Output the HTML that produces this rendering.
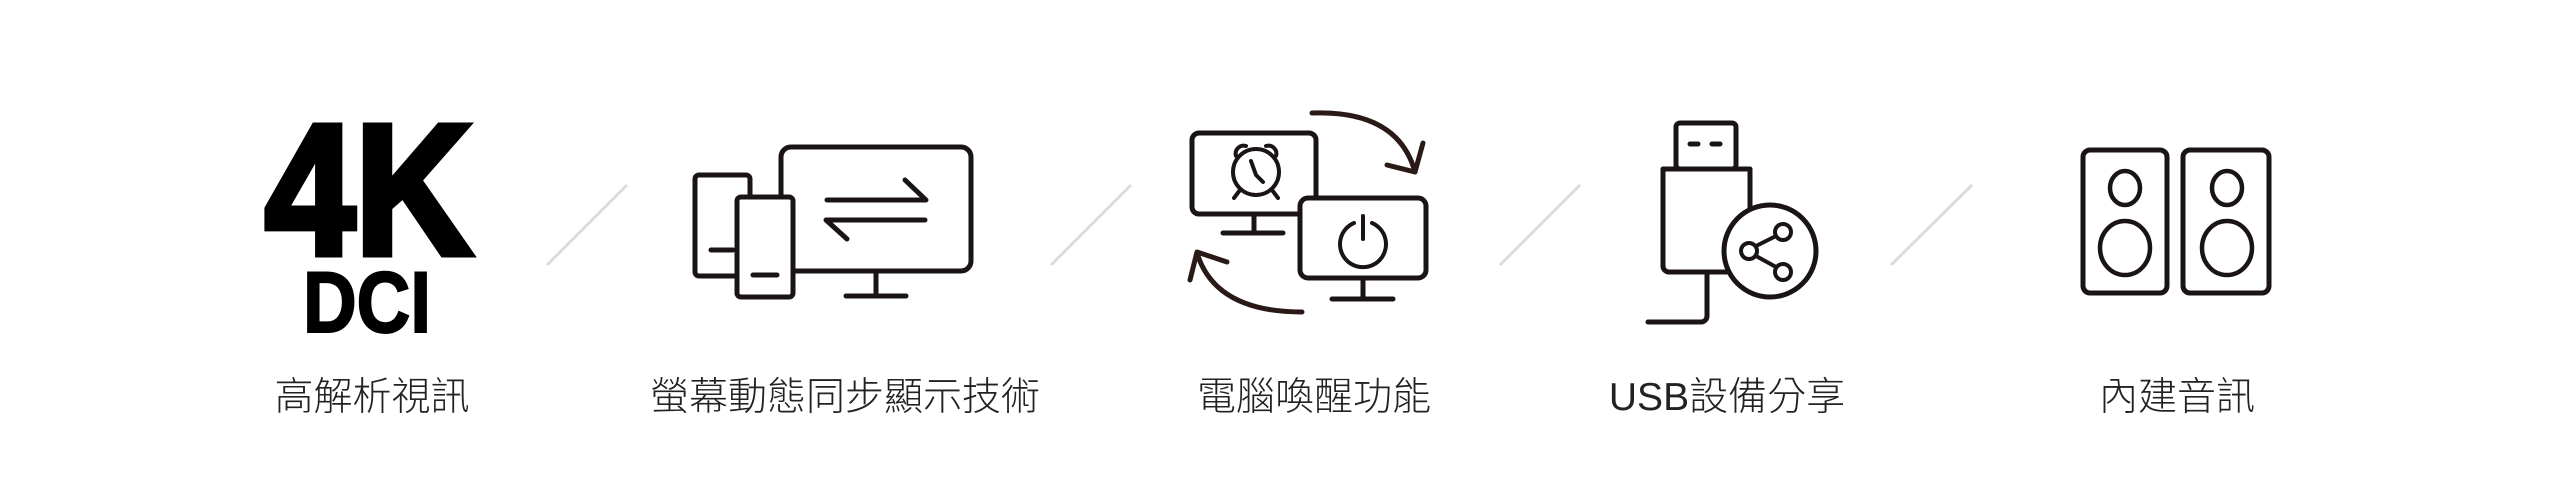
<!DOCTYPE html>
<html><head><meta charset="utf-8"><style>
html,body{margin:0;padding:0;background:#fff;}
svg{display:block}
.lbl{font-family:"Liberation Sans","Noto Sans CJK TC",sans-serif;font-size:39px;font-weight:300;fill:#222;}
</style></head><body>
<svg width="2560" height="500" viewBox="0 0 2560 500" xmlns="http://www.w3.org/2000/svg">
<rect width="2560" height="500" fill="#fff"/>
<!-- 4K DCI -->
<text x="265" y="254" font-family="Liberation Sans" font-weight="bold" font-size="186" textLength="207" lengthAdjust="spacingAndGlyphs" fill="#000" stroke="#000" stroke-width="7" stroke-linejoin="miter">4K</text>
<text x="303" y="332" font-family="Liberation Sans" font-weight="bold" font-size="86" textLength="128" lengthAdjust="spacingAndGlyphs" fill="#000" stroke="#000" stroke-width="2">DCI</text>

<!-- slashes -->
<g stroke="#dcdcdc" stroke-width="3">
<line x1="627" y1="185" x2="547" y2="265"/>
<line x1="1131" y1="185" x2="1051" y2="265"/>
<line x1="1580" y1="185" x2="1500" y2="265"/>
<line x1="1972" y1="185" x2="1891" y2="265"/>
</g>

<g fill="none" stroke="#1a1414" stroke-width="5" stroke-linecap="round" stroke-linejoin="round">
<!-- icon 2 -->
<rect x="781" y="147" width="190" height="124" rx="10"/>
<line x1="876" y1="272" x2="876" y2="296"/>
<line x1="846" y1="296" x2="906" y2="296"/>
<rect x="695" y="175" width="55" height="101" rx="4" fill="#fff"/>
<line x1="711" y1="250" x2="733" y2="250"/>
<rect x="737" y="197" width="56" height="100" rx="4" fill="#fff"/>
<line x1="753" y1="275" x2="777" y2="275"/>
<polyline points="827,200 926,200 905,180"/>
<polyline points="925,220 826,220 847,239"/>

<!-- icon 3 -->
<rect x="1192" y="133" width="124" height="81" rx="7"/>
<line x1="1254" y1="215" x2="1254" y2="232"/>
<line x1="1223" y1="233" x2="1283" y2="233"/>
<circle cx="1256" cy="172" r="23" stroke-width="4"/>
<polyline points="1251,161 1256,175 1263,182" stroke-width="4"/>
<path d="M1236,156 a8,8 0 0 1 10,-10" stroke-width="4"/>
<path d="M1266,146 a8,8 0 0 1 10,10" stroke-width="4"/>
<line x1="1240" y1="190" x2="1234" y2="198" stroke-width="4"/>
<line x1="1272" y1="190" x2="1278" y2="198" stroke-width="4"/>
<rect x="1300" y="198" width="126" height="80" rx="8" fill="#fff"/>
<line x1="1363" y1="279" x2="1363" y2="298"/>
<line x1="1332" y1="299" x2="1393" y2="299"/>
<path d="M1354,223 A23,23 0 1 0 1372,223" stroke-width="4"/>
<line x1="1363" y1="216" x2="1363" y2="239" stroke-width="4"/>
<path d="M1312,113 Q1398,110 1415,172" stroke="#2a1a17"/>
<polyline points="1387,165 1415,172 1423,143" stroke="#2a1a17"/>
<path d="M1302,312 Q1215,312 1197,253" stroke="#2a1a17"/>
<polyline points="1227,262 1197,252 1190,280" stroke="#2a1a17"/>

<!-- icon 4 USB -->
<rect x="1676" y="123" width="60" height="46" rx="4"/>
<line x1="1690" y1="144" x2="1698" y2="144"/>
<line x1="1712" y1="144" x2="1720" y2="144"/>
<path d="M1663,169 H1750 V272 H1669 a6,6 0 0 1 -6,-6 Z"/>
<path d="M1707,272 V316 a6,6 0 0 1 -6,6 H1648"/>
<circle cx="1770" cy="251" r="46" fill="#fff"/>
<circle cx="1783" cy="232" r="8" stroke-width="4"/>
<circle cx="1749" cy="251" r="8" stroke-width="4"/>
<circle cx="1783" cy="272" r="8" stroke-width="4"/>
<line x1="1756" y1="246" x2="1776" y2="236" stroke-width="4"/>
<line x1="1756" y1="256" x2="1776" y2="267" stroke-width="4"/>

<!-- icon 5 speakers -->
<rect x="2083" y="150" width="84" height="143" rx="7"/>
<rect x="2183" y="150" width="86" height="143" rx="7"/>
<ellipse cx="2125" cy="188" rx="15" ry="17" stroke-width="4.5"/>
<ellipse cx="2125" cy="248" rx="25" ry="27" stroke-width="4.5"/>
<ellipse cx="2227" cy="188" rx="15" ry="17" stroke-width="4.5"/>
<ellipse cx="2227" cy="248" rx="25" ry="27" stroke-width="4.5"/>
</g>

<!-- labels -->
<g text-anchor="middle">
<text class="lbl" x="372" y="410">高解析視訊</text>
<text class="lbl" x="845" y="410">螢幕動態同步顯示技術</text>
<text class="lbl" x="1314" y="410">電腦喚醒功能</text>
<text class="lbl" x="1727" y="410">USB設備分享</text>
<text class="lbl" x="2177" y="410">內建音訊</text>
</g>
</svg>
</body></html>
